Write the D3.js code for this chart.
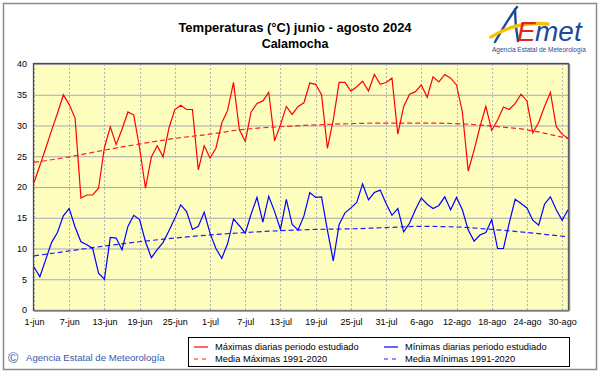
<!DOCTYPE html>
<html>
<head>
<meta charset="utf-8">
<script src="https://cdn.jsdelivr.net/npm/d3@7"></script>
<style>
	body { margin: 0; background: #fff; }
	text { font-family: Arial, "Liberation Sans", sans-serif; }
</style>
</head>
<body>
<div id="chart"></div>
<script>
// temperaturas calamocha jun-ago 2024

// day index 0 = 1-jun, 91 = 31-ago
var maximas = [20.7, 23.5, 26.3, 29.2, 32.0, 35.0, 33.4, 31.2, 18.2, 18.7,
	18.7, 19.8, 26.4, 29.8, 26.9, 29.4, 32.2, 31.7, 26.3, 19.8,
	24.9, 26.7, 24.9, 29.6, 32.6, 33.3, 32.6, 32.6, 22.8, 26.7,
	24.7, 26.3, 30.4, 32.5, 37.0, 29.3, 27.4, 32.2, 33.6, 34.0,
	35.4, 27.5, 30.1, 33.1, 31.8, 33.1, 33.7, 36.9, 36.7, 35.0,
	26.3, 30.9, 37.0, 37.0, 35.6, 36.3, 37.2, 35.6, 38.3, 36.7,
	37.0, 37.7, 28.6, 33.1, 35.1, 35.5, 36.6, 34.6, 37.9, 37.1,
	38.3, 37.7, 36.6, 32.2, 22.6, 26.0, 29.8, 33.1, 29.2, 30.9,
	33.0, 32.6, 33.6, 35.1, 34.0, 28.8, 30.5, 33.1, 35.4, 29.8,
	28.6, 27.9];

var minimas = [7.0, 5.4, 8.2, 11.0, 12.6, 15.3, 16.5, 13.5, 11.1, 10.6,
	10.0, 6.0, 5.0, 11.8, 11.7, 9.8, 13.6, 15.4, 14.7, 11.1,
	8.5, 9.8, 11.0, 12.9, 14.9, 17.1, 16.0, 13.1, 13.6, 15.9,
	12.5, 10.0, 8.4, 10.8, 14.8, 13.7, 12.5, 15.6, 18.3, 14.3,
	18.5, 16.0, 13.1, 18.0, 13.9, 13.0, 15.3, 19.1, 18.3, 18.4,
	13.0, 8.0, 13.9, 15.8, 16.6, 17.5, 20.5, 17.9, 19.1, 19.5,
	17.3, 15.4, 16.5, 12.7, 14.1, 16.3, 18.2, 17.2, 16.5, 17.0,
	18.4, 16.3, 18.3, 16.3, 13.0, 11.2, 12.2, 12.6, 14.7, 10.0,
	10.0, 14.2, 18.0, 17.3, 16.6, 14.6, 13.8, 17.2, 18.4, 16.3,
	14.6, 16.3];

// climatology 1991-2020, read every 6 days
var mediaDias = [0, 6, 12, 18, 24, 30, 36, 42, 48, 54, 60, 66, 72, 78, 84, 90, 91];
var mediaMax = [24.0, 24.9, 26.0, 27.0, 27.9, 28.6, 29.4, 29.8, 30.1, 30.3, 30.4, 30.4, 30.3, 29.9, 29.3, 28.1, 27.9];
var mediaMin = [8.8, 9.6, 10.4, 11.1, 11.7, 12.2, 12.6, 12.9, 13.1, 13.2, 13.4, 13.6, 13.5, 13.1, 12.6, 12.0, 11.9];

var tickDias = [0, 6, 12, 18, 24, 30, 36, 42, 48, 54, 60, 66, 72, 78, 84, 90];
var tickLabels = ["1-jun", "7-jun", "13-jun", "19-jun", "25-jun", "1-jul", "7-jul", "13-jul",
	"19-jul", "25-jul", "31-jul", "6-ago", "12-ago", "18-ago", "24-ago", "30-ago"];
var yTicks = [0, 5, 10, 15, 20, 25, 30, 35, 40];

var W = 601, H = 374;
var plot = {"x": 34, "y": 64, "w": 534, "h": 246};

var svg = d3.select("#chart").append("svg")
	.attr("width", W)
	.attr("height", H);

// outer frame
svg.append("rect")
	.attr("x", 3.5).attr("y", 3.5)
	.attr("width", 593).attr("height", 366)
	.attr("fill", "#fff")
	.attr("stroke", "#8a8a8a")
	.attr("stroke-width", 1.5);

var x = d3.scaleLinear().domain([0, 91]).range([plot.x, plot.x + plot.w]);
var y = d3.scaleLinear().domain([0, 40]).range([plot.y + plot.h, plot.y]);

// yellow dotted background
var defs = svg.append("defs");
var pat = defs.append("pattern")
	.attr("id", "puntos")
	.attr("width", 4).attr("height", 4)
	.attr("patternUnits", "userSpaceOnUse");
pat.append("rect").attr("width", 4).attr("height", 4).attr("fill", "#ffffc0");
pat.append("rect").attr("x", 1).attr("y", 1).attr("width", 1).attr("height", 1).attr("fill", "#f2f2b0");
pat.append("rect").attr("x", 3).attr("y", 3).attr("width", 1).attr("height", 1).attr("fill", "#f6f6b8");

svg.append("rect")
	.attr("x", plot.x).attr("y", plot.y)
	.attr("width", plot.w).attr("height", plot.h)
	.attr("fill", "url(#puntos)");

// grid
svg.append("g").selectAll("line")
	.data(yTicks)
	.enter().append("line")
	.attr("x1", plot.x).attr("x2", plot.x + plot.w)
	.attr("y1", function(d){ return y(d) + 0.5; })
	.attr("y2", function(d){ return y(d) + 0.5; })
	.attr("stroke", "#a8a8b4")
	.attr("stroke-width", 1);

svg.append("g").selectAll("line")
	.data(tickDias)
	.enter().append("line")
	.attr("x1", function(d){ return Math.round(x(d)) + 0.5; })
	.attr("x2", function(d){ return Math.round(x(d)) + 0.5; })
	.attr("y1", plot.y).attr("y2", plot.y + plot.h)
	.attr("stroke", "#b4b4b4")
	.attr("stroke-dasharray", "2,2");

// axes (labels only, the frame is drawn below)
var yAxis = svg.append("g")
	.attr("transform", "translate(" + plot.x + ",0)")
	.call(d3.axisLeft(y).tickValues(yTicks).tickSize(0).tickPadding(7));
var xAxis = svg.append("g")
	.attr("transform", "translate(0," + (plot.y + plot.h) + ")")
	.call(d3.axisBottom(x).tickValues(tickDias).tickSize(0).tickPadding(9)
		.tickFormat(function(d, i){ return tickLabels[i]; }));
[yAxis, xAxis].forEach(function(a){
	a.select(".domain").remove();
	a.selectAll("text")
		.attr("font-size", 9)
		.attr("font-family", "Arial, 'Liberation Sans', sans-serif")
		.attr("fill", "#000");
});

// plot frame
svg.append("rect")
	.attr("x", plot.x - 0.5).attr("y", plot.y - 0.5)
	.attr("width", plot.w + 1).attr("height", plot.h + 1)
	.attr("fill", "none")
	.attr("stroke", "#4a4a4a")
	.attr("stroke-width", 1.3);
svg.append("line")
	.attr("x1", plot.x).attr("x2", plot.x + plot.w + 1)
	.attr("y1", plot.y + plot.h + 1).attr("y2", plot.y + plot.h + 1)
	.attr("stroke", "#8c8c8c").attr("stroke-width", 1.5);
svg.append("line")
	.attr("x1", plot.x + plot.w + 1.5).attr("x2", plot.x + plot.w + 1.5)
	.attr("y1", plot.y).attr("y2", plot.y + plot.h + 1)
	.attr("stroke", "#8c8c8c").attr("stroke-width", 1.5);

// series
var linea = d3.line()
	.x(function(d, i){ return x(i); })
	.y(function(d){ return y(d); });
var lineaMedia = d3.line()
	.x(function(d){ return x(d[0]); })
	.y(function(d){ return y(d[1]); })
	.curve(d3.curveMonotoneX);

var series = [
	{"path": lineaMedia(d3.zip(mediaDias, mediaMax)), "color": "#ff2020", "dash": "5,3"},
	{"path": lineaMedia(d3.zip(mediaDias, mediaMin)), "color": "#2020ff", "dash": "5,3"},
	{"path": linea(maximas), "color": "#ff0000", "dash": null},
	{"path": linea(minimas), "color": "#0000ff", "dash": null}
];
series.forEach(function(s){
	svg.append("path")
		.attr("d", s.path)
		.attr("fill", "none")
		.attr("stroke", s.color)
		.attr("stroke-width", 1.2)
		.attr("stroke-dasharray", s.dash);
});

// titles
svg.append("text")
	.attr("x", 295).attr("y", 32)
	.attr("text-anchor", "middle")
	.attr("font-size", 13).attr("font-weight", "bold")
	.text("Temperaturas (°C) junio - agosto 2024");
svg.append("text")
	.attr("x", 295).attr("y", 48)
	.attr("text-anchor", "middle")
	.attr("font-size", 12.5).attr("font-weight", "bold")
	.text("Calamocha");

// aemet logo (rough)
var logo = svg.append("g").attr("id", "logo");
logo.append("path")
	.attr("d", "M495,42 C502,30 508,19 517,7 M515,9 C515,20 516,30 518,41")
	.attr("fill", "none").attr("stroke", "#1f4a9a").attr("stroke-width", 2.4)
	.attr("stroke-linecap", "round");
logo.append("path")
	.attr("d", "M491,37 C505,28 525,22 548,24")
	.attr("fill", "none").attr("stroke", "#f5c400").attr("stroke-width", 3.4)
	.attr("stroke-linecap", "round");
logo.append("text")
	.attr("x", 517).attr("y", 41)
	.attr("font-size", 28).attr("font-style", "italic")
	.attr("fill", "#e02818")
	.text("E");
logo.append("text")
	.attr("x", 535).attr("y", 41)
	.attr("font-size", 28).attr("font-style", "italic")
	.attr("fill", "#1f4a9a")
	.text("met");
logo.append("text")
	.attr("x", 539).attr("y", 52)
	.attr("text-anchor", "middle")
	.attr("font-size", 6.5)
	.attr("fill", "#1f4a9a")
	.text("Agencia Estatal de Meteorología");

// copyright
svg.append("text")
	.attr("x", 8).attr("y", 363)
	.attr("font-size", 14)
	.attr("fill", "#3a5aa8")
	.text("©");
svg.append("text")
	.attr("x", 26).attr("y", 361)
	.attr("font-size", 9.6)
	.attr("fill", "#3a5aa8")
	.text("Agencia Estatal de Meteorología");

// legend
var leyenda = svg.append("g").attr("id", "leyenda");
leyenda.append("rect")
	.attr("x", 188.5).attr("y", 337.5)
	.attr("width", 381).attr("height", 29)
	.attr("fill", "#fff")
	.attr("stroke", "#000");
var items = [
	{"label": "Máximas diarias periodo estudiado", "color": "#ff0000", "dash": null, "x": 194, "y": 347},
	{"label": "Mínimas diarias periodo estudiado", "color": "#0000ff", "dash": null, "x": 384, "y": 347},
	{"label": "Media Máximas 1991-2020", "color": "#ff2020", "dash": "4,4", "x": 194, "y": 359},
	{"label": "Media Mínimas 1991-2020", "color": "#2020ff", "dash": "4,4", "x": 384, "y": 359}
];
items.forEach(function(it){
	leyenda.append("line")
		.attr("x1", it.x).attr("x2", it.x + 14)
		.attr("y1", it.y).attr("y2", it.y)
		.attr("stroke", it.color)
		.attr("stroke-width", 1.2)
		.attr("stroke-dasharray", it.dash);
	leyenda.append("text")
		.attr("x", it.x + 21).attr("y", it.y + 3)
		.attr("font-size", 9.3)
		.text(it.label);
});
</script>
</body>
</html>
